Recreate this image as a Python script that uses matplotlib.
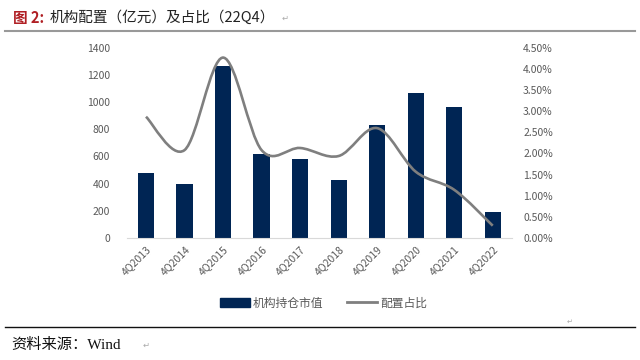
import numpy as np
import matplotlib.pyplot as plt
from matplotlib.path import Path
from matplotlib.patches import PathPatch
from matplotlib.lines import Line2D
from matplotlib.patches import Patch

plt.rcParams['font.family'] = ['Noto Sans CJK SC', 'DejaVu Sans']

quarters = ["4Q2013", "4Q2014", "4Q2015", "4Q2016", "4Q2017",
            "4Q2018", "4Q2019", "4Q2020", "4Q2021", "4Q2022"]
holdings = [475, 395, 1270, 615, 580, 430, 835, 1065, 965, 190]
share_pct = [2.87, 2.08, 4.27, 2.08, 2.13, 1.94, 2.60, 1.57, 1.14, 0.29]

bar_color = "#002554"
line_color = "#7f7f7f"
tick_color = "#595959"

fig = plt.figure(figsize=(6.4, 3.6), dpi=100)
ax = fig.add_axes([0.198, 0.339, 0.602, 0.528])
ax2 = ax.twinx()

x = np.arange(len(quarters))
ax.bar(x, holdings, width=0.42, color=bar_color, zorder=2)
ax.set_xlim(-0.5, len(quarters) - 0.5)
ax.set_ylim(0, 1400)
ax.set_yticks(range(0, 1401, 200))
ax.set_xticks(x)
ax.set_xticklabels(quarters, rotation=45, ha="right", rotation_mode="anchor")

# smoothed line (Excel style), drawn as a bezier path through the points
y = np.array(share_pct) / 100
verts = [(x[0], y[0])]
codes = [Path.MOVETO]
t = 1 / 6
for i in range(len(x) - 1):
    p0 = (x[i - 1], y[i - 1]) if i > 0 else (x[i], y[i])
    p1 = (x[i], y[i])
    p2 = (x[i + 1], y[i + 1])
    p3 = (x[i + 2], y[i + 2]) if i + 2 < len(x) else p2
    c1 = (p1[0] + (p2[0] - p0[0]) * t, p1[1] + (p2[1] - p0[1]) * t)
    c2 = (p2[0] - (p3[0] - p1[0]) * t, p2[1] - (p3[1] - p1[1]) * t)
    verts += [c1, c2, p2]
    codes += [Path.CURVE4] * 3
ax2.add_patch(PathPatch(Path(verts, codes), facecolor="none",
                        edgecolor=line_color, lw=1.9, zorder=3))
ax2.set_ylim(0, 0.045)
ax2.set_yticks(np.arange(0, 0.0451, 0.005))
ax2.set_yticklabels(["%.2f%%" % (v * 100) for v in np.arange(0, 0.0451, 0.005)])

for a in (ax, ax2):
    for s in a.spines.values():
        s.set_visible(False)
    a.tick_params(length=0, colors=tick_color, labelsize=7.5)
ax.spines["bottom"].set_visible(True)
ax.spines["bottom"].set_color("#d9d9d9")
ax.tick_params(axis="x", pad=4)
ax.tick_params(axis="y", pad=12)
ax2.tick_params(axis="y", pad=8)

handles = [Patch(color=bar_color), Line2D([], [], color=line_color, lw=2)]
fig.legend(handles, ["机构持仓市值", "配置占比"], loc="center",
           bbox_to_anchor=(0.505, 0.158), ncol=2, frameon=False,
           fontsize=8.5, labelcolor=tick_color, handlelength=2.6,
           handleheight=0.8, columnspacing=2.0, handletextpad=0.2)

# title and source
fig.text(0.021, 0.95, "图 2:", color="#b01f24", fontsize=10.5,
         fontweight="bold", va="center")
fig.text(0.077, 0.95, "机构配置（亿元）及占比（22Q4）", color="#222222",
         fontsize=10.5, va="center")
fig.text(0.44, 0.95, "↵", color="#aaaaaa", fontsize=6, va="center")
fig.add_artist(Line2D([0.008, 0.992], [0.913, 0.913], color="#999999", lw=1.5))
fig.add_artist(Line2D([0.008, 0.992], [0.092, 0.092], color="#111111", lw=1.0))
fig.text(0.018, 0.042, "资料来源：Wind", family=["Liberation Serif", "Noto Sans CJK SC"],
         fontsize=11, color="#111111", va="center")
fig.text(0.222, 0.042, "↵", color="#aaaaaa", fontsize=6, va="center")
fig.text(0.885, 0.105, "↵", color="#aaaaaa", fontsize=5, va="center")

fig.savefig("out.png", dpi=100)
